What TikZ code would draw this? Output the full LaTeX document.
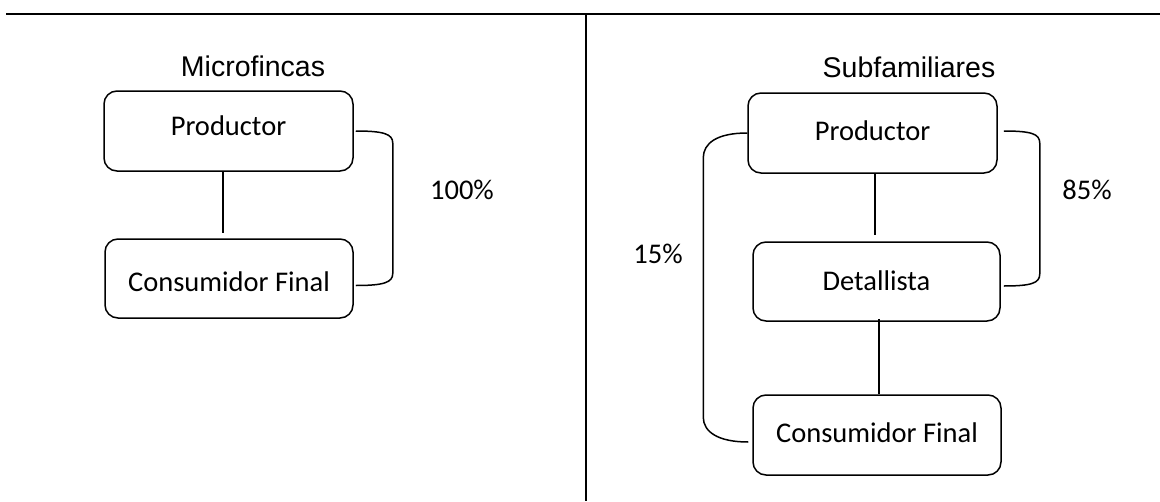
\documentclass[tikz,border=0pt]{standalone}
\usepackage{fontspec}
\setmainfont{Carlito}
\newfontfamily\titlefont{Liberation Sans}
\usetikzlibrary{calc}
\tikzset{
  stagebox/.style={draw, line width=1.5pt, rounded corners=13pt, inner sep=0pt,
    font=\fontsize{28.5pt}{34pt}\selectfont, text height=30pt},
  titletext/.style={font=\titlefont\fontsize{28.5pt}{34pt}\selectfont, anchor=base, inner sep=0pt},
  pcttext/.style={font=\fontsize{28.5pt}{34pt}\selectfont, anchor=base, inner sep=0pt},
  link/.style={line width=1.5pt},
  framerule/.style={line width=2.25pt},
}
\begin{document}
\begin{tikzpicture}[x=1pt,y=-1pt]
\useasboundingbox (0,0) rectangle (1160,501);
% frame
\draw[framerule] (6,14) -- (1160,14);
\draw[framerule] (586,14) -- (586,501);

% titles
\node[titletext] (t1) at (253,76) {Microfincas};
\node[titletext] (t2) at (909,77) {Subfamiliares};

% left side
\node[stagebox, minimum width=249pt, minimum height=80pt, text depth=22pt] (p1) at (228.5,131) {Productor};
\node[stagebox, minimum width=248pt, minimum height=79pt, text depth=4pt] (c1) at (229,278.5) {Consumidor Final};
\draw[link, shorten >=5pt] ([xshift=-5.5pt]p1.south) -- ([xshift=-6pt]c1.north);
\coordinate (a1) at ([xshift=2pt]p1.east);
\coordinate (a2) at ([xshift=2pt,yshift=-7pt]c1.east);
\draw[link] (a1) .. controls +(28,0) and +(0,-9) .. ($(a1)+(37,12)$)
  -- ($(a2)+(37,-12)$) .. controls +(0,9) and +(28,0) .. (a2);
\node[pcttext] (l100) at (462,199) {100\%};

% right side
\node[stagebox, minimum width=249pt, minimum height=80pt, text depth=16pt] (p2) at (872.5,133) {Productor};
\node[stagebox, minimum width=247pt, minimum height=79pt, text depth=13pt] (d2) at (876.5,281.5) {Detallista};
\node[stagebox, minimum width=248pt, minimum height=80pt, text depth=16pt] (c2) at (877,435) {Consumidor Final};
\draw[link, shorten >=6pt] ([xshift=2.5pt]p2.south) -- ([xshift=-1.5pt]d2.north);
\draw[link] ([xshift=2.5pt,yshift=3pt]d2.south) -- ([xshift=2pt]c2.north);

\coordinate (a5) at ([xshift=6pt,yshift=2pt]p2.east);
\coordinate (a6) at ([xshift=3pt,yshift=-4.5pt]d2.east);
\draw[link] (a5) .. controls +(28,0) and +(0,-9) .. ($(a5)+(36,12)$)
  -- ($(a6)+(36,-12)$) .. controls +(0,9) and +(28,0) .. (a6);
\node[pcttext] (l85) at (1087,199) {85\%};

\coordinate (a3) at (p2.west);
\coordinate (a4) at ([xshift=-4pt,yshift=-7pt]c2.west);
\draw[link] (a3) .. controls +(-30,0) and +(0,-15) .. ($(a3)+(-44,25)$)
  -- ($(a4)+(-45,-25)$) .. controls +(0,15) and +(-30,0) .. (a4);
\node[pcttext] (l15) at (658,263) {15\%};
\end{tikzpicture}
\end{document}
